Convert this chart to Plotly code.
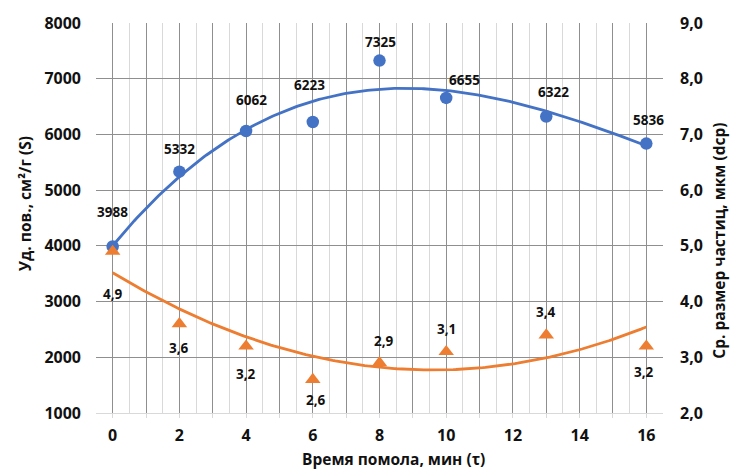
import numpy as np
import plotly.graph_objects as go

# Grinding time, min
tau = [0, 2, 4, 6, 8, 10, 13, 16]
# Specific surface, cm²/g
surface = [3988, 5332, 6062, 6223, 7325, 6655, 6322, 5836]
# Mean particle size, µm
dcp = [4.9, 3.6, 3.2, 2.6, 2.9, 3.1, 3.4, 3.2]
x_tick_labels = ["0", "", "2", "", "4", "", "6", "", "8", "", "10", "", "12", "", "14", "", "16"]

# Pixel offsets of the data labels relative to their markers
surface_label_dx = [0, 0, 5, -3, 1, 18, 7, 2]
surface_label_dy = [35, 23, 31, 37, 19, 18, 24, 24]
dcp_label_dx = [0, 0, 0, 3, 4, 0, 0, -2]
dcp_label_dy = [-43, -24, -28, -20, 22, 23, 23, -26]

BLUE = "#4472C4"
ORANGE = "#ED7D31"
FONT = "Open Sans"
TEXT = "#111111"

# Polynomial trend lines (cubic for S, quadratic for dcp)
xs = np.linspace(min(tau), max(tau), 200)
s_fit = np.polyval(np.polyfit(tau, surface, 3), xs)
d_fit = np.polyval(np.polyfit(tau, dcp, 2), xs)

fig = go.Figure()
fig.add_trace(go.Scatter(x=xs, y=s_fit, mode="lines", line=dict(color=BLUE, width=2.8),
                         hoverinfo="skip", showlegend=False))
fig.add_trace(go.Scatter(x=xs, y=d_fit, mode="lines", line=dict(color=ORANGE, width=2.8),
                         yaxis="y2", hoverinfo="skip", showlegend=False))
fig.add_trace(go.Scatter(x=tau, y=surface, mode="markers", name="S",
                         marker=dict(color=BLUE, size=12.5, symbol="circle"), showlegend=False))
fig.add_trace(go.Scatter(x=tau, y=dcp, mode="markers", name="dcp", yaxis="y2",
                         marker=dict(color=ORANGE, size=13.5, symbol="triangle-up"), showlegend=False))

label_font = dict(family=FONT, size=13.5, color=TEXT, weight="bold")
for x, v, dx, dy in zip(tau, surface, surface_label_dx, surface_label_dy):
    fig.add_annotation(x=x, y=v, xref="x", yref="y", text=str(v), showarrow=False,
                       xanchor="center", yanchor="middle", xshift=dx, yshift=dy, font=label_font)
for x, v, dx, dy in zip(tau, dcp, dcp_label_dx, dcp_label_dy):
    fig.add_annotation(x=x, y=v, xref="x", yref="y2", text=f"{v:.1f}".replace(".", ","),
                       showarrow=False, xanchor="center", yanchor="middle",
                       xshift=dx, yshift=dy, font=label_font)

tick_font = dict(family=FONT, size=16, color=TEXT, weight="bold")
title_font = dict(family=FONT, size=15.5, color=TEXT, weight="bold")

# Axis titles placed as paper annotations (given in pixels, converted below)
fig.add_annotation(x=393, y=460, xref="paper", yref="paper", text="Время помола, мин (τ)",
                   showarrow=False, font=title_font, xanchor="center", yanchor="middle")
fig.add_annotation(x=25, y=201, xref="paper", yref="paper", text="Уд. пов., см²/г (S)",
                   showarrow=False, font=title_font, textangle=-90,
                   xanchor="center", yanchor="middle")
fig.add_annotation(x=719, y=238, xref="paper", yref="paper", text="Ср. размер частиц, мкм (dcp)",
                   showarrow=False, font=title_font, textangle=-90,
                   xanchor="center", yanchor="middle")

L, R, T, B = 96, 67, 17, 58
W, H = 730, 471
pw, ph = W - L - R, H - T - B
for ann in fig.layout.annotations:
    if ann.xref == "paper":
        ann.x = (ann.x - L) / pw
        ann.y = (H - B - ann.y) / ph

fig.update_layout(
    width=W, height=H,
    margin=dict(l=L, r=R, t=T, b=B),
    paper_bgcolor="white", plot_bgcolor="white",
    separators=", ",
    xaxis=dict(
        range=[-0.5, 16.5], tickmode="array", tickvals=list(range(17)), ticktext=x_tick_labels,
        showgrid=True, gridcolor="#8f8f8f", gridwidth=1.4,
        minor=dict(tickmode="array", tickvals=[i + 0.5 for i in range(-1, 17)],
                   showgrid=True, gridcolor="#d9d9d9", gridwidth=1.3, ticks=""),
        ticks="outside", ticklen=4, tickcolor="#d9d9d9",
        showline=True, linecolor="#d9d9d9", linewidth=1.3,
        zeroline=False, tickfont=tick_font, ticklabelstandoff=4,
    ),
    yaxis=dict(
        range=[1000, 8000], dtick=1000, tickformat="d",
        showgrid=True, gridcolor="#8f8f8f", gridwidth=1.4, zeroline=False,
        tickfont=tick_font, ticks="", ticklabelstandoff=14,
    ),
    yaxis2=dict(
        range=[2, 9], dtick=1, tickformat=".1f", overlaying="y", side="right",
        showgrid=False, zeroline=False, tickfont=tick_font, ticks="", ticklabelstandoff=16,
    ),
)

fig.write_html("out.html")
